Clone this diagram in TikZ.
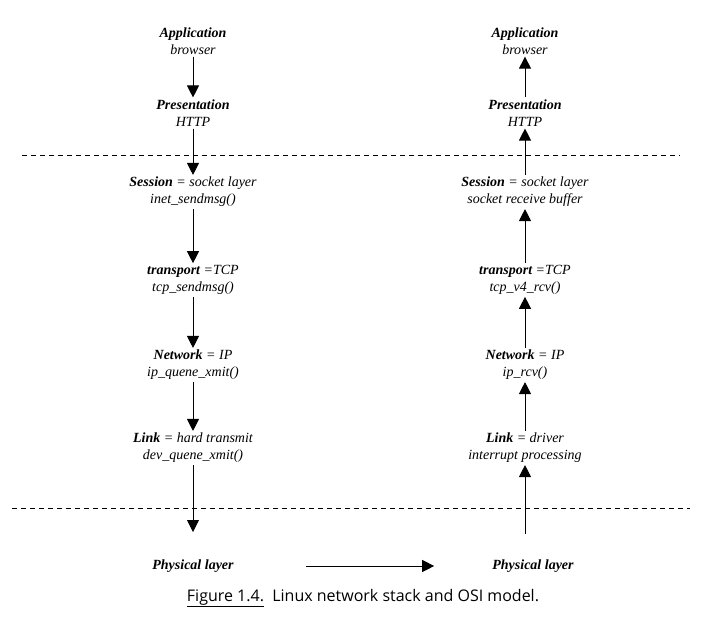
\documentclass[tikz,border=0pt]{standalone}
\usepackage{fontspec}
\setmainfont{Liberation Serif}
\setsansfont{Open Sans}
\usetikzlibrary{arrows.meta}
\begin{document}
\begin{tikzpicture}[x=1pt,y=-1pt,
  layer/.style={align=center, inner sep=2pt, font=\fontsize{14}{17}\selectfont\itshape},
  arr/.style={-{Triangle[width=12pt,length=12pt]}, line width=0.9pt},
  sepline/.style={dash pattern=on 5pt off 4pt, line width=0.7pt}]
\useasboundingbox (0,0) rectangle (707,619);

% left stack
\node[layer] (appL)  at (193,41)  {\textbf{Application}\\browser};
\node[layer] (presL) at (193,113) {\textbf{Presentation}\\HTTP};
\node[layer] (sesL)  at (193,192) {\textbf{Session} = socket layer\\inet\_sendmsg()};
\node[layer] (trL)   at (193,280) {\textbf{transport} =TCP\\tcp\_sendmsg()};
\node[layer] (netL)  at (193,365) {\textbf{Network} = IP\\ip\_quene\_xmit()};
\node[layer] (linkL) at (193,448) {\textbf{Link} = hard transmit\\dev\_quene\_xmit()};
\node[layer] (phyL)  at (193,566) {\textbf{Physical layer}};
\coordinate (botL) at (193,532);

% right stack
\node[layer] (appR)  at (525,41)  {\textbf{Application}\\browser};
\node[layer] (presR) at (525,113) {\textbf{Presentation}\\HTTP};
\node[layer] (sesR)  at (525,192) {\textbf{Session} = socket layer\\socket receive buffer};
\node[layer] (trR)   at (525,280) {\textbf{transport} =TCP\\tcp\_v4\_rcv()};
\node[layer] (netR)  at (525,365) {\textbf{Network} = IP\\ip\_rcv()};
\node[layer] (linkR) at (525,448) {\textbf{Link} = driver\\interrupt processing};
\node[layer] (phyR)  at (533,566) {\textbf{Physical layer}};
\coordinate (botR) at (525,534);

% dashed separators
\coordinate (d1a) at (22,155);  \coordinate (d1b) at (680,155);
\coordinate (d2a) at (12,508);  \coordinate (d2b) at (690,508);
\draw[sepline] (d1a) -- (d1b);
\draw[sepline] (d2a) -- (d2b);

% left arrows (down)
\draw[arr] (appL) -- (presL);
\draw[arr] (presL) -- (sesL);
\draw[arr] (sesL) -- (trL);
\draw[arr] (trL) -- (netL);
\draw[arr] (netL) -- (linkL);
\draw[arr] (linkL) -- (botL);

% right arrows (up)
\draw[arr] (presR) -- (appR);
\draw[arr] (sesR) -- (presR);
\draw[arr] (trR) -- (sesR);
\draw[arr] (netR) -- (trR);
\draw[arr] (linkR) -- (netR);
\draw[arr] (botR) -- (botR |- linkR.south);

% physical link
\draw[arr, shorten <=70pt, shorten >=56pt] (phyL.east) -- (phyR.west);

% caption
\node[font=\sffamily\fontsize{16}{18}\selectfont, inner sep=0pt] (cap) at (363,598)
  {\underline{Figure 1.4.}\ \ Linux network stack and OSI model.};
\end{tikzpicture}
\end{document}
